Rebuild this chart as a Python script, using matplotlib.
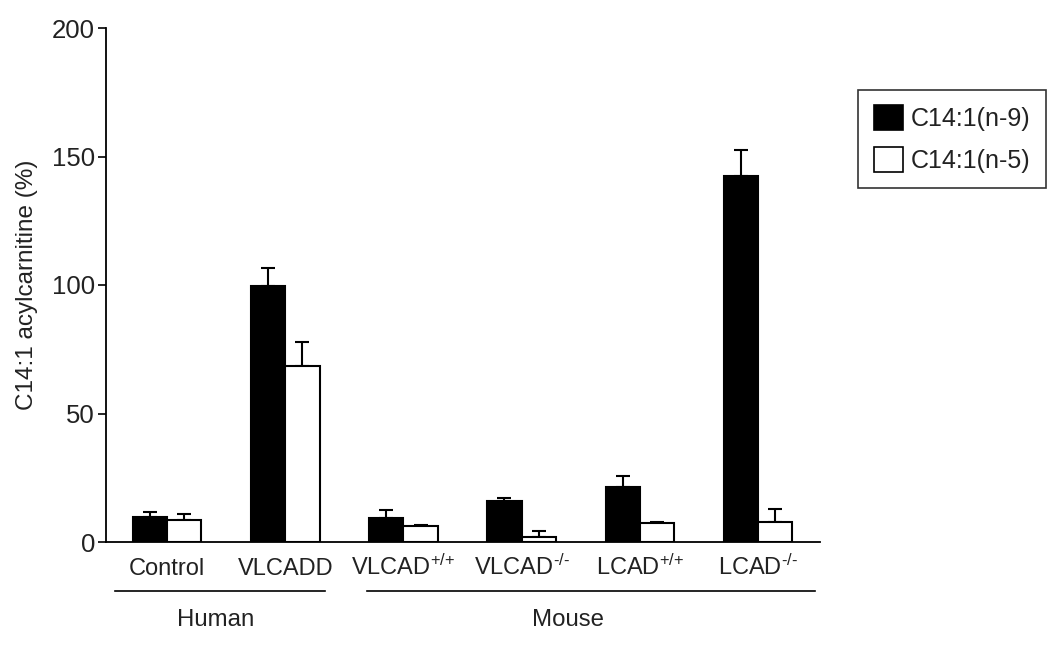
import matplotlib
matplotlib.use("Agg")
import matplotlib.pyplot as plt
from matplotlib.patches import Patch
import numpy as np

plt.rcParams['font.family'] = ['Liberation Sans', 'DejaVu Sans']
plt.rcParams['mathtext.fontset'] = 'custom'
plt.rcParams['mathtext.rm'] = 'Liberation Sans'
plt.rcParams['mathtext.default'] = 'regular'

categories = ['Control', 'VLCADD', r'VLCAD$^{\text{+/+}}$', r'VLCAD$^{\text{-/-}}$',
              r'LCAD$^{\text{+/+}}$', r'LCAD$^{\text{-/-}}$']
n9_values = [9.9, 99.5, 9.2, 16.1, 21.5, 142.5]
n9_err = [1.8, 7.0, 3.1, 0.9, 4.1, 10.0]
n5_values = [8.6, 68.6, 6.2, 1.9, 7.4, 7.9]
n5_err = [2.4, 9.2, 0.4, 2.4, 0.5, 4.9]
series_labels = ['C14:1(n-9)', 'C14:1(n-5)']
groups = ['Human', 'Mouse']
yticks = [0, 50, 100, 150, 200]

fig = plt.figure(figsize=(10.5, 6.45), dpi=100)
ax = fig.add_axes([106/1050, 1-542/645, (820-106)/1050, (542-28)/645])

x = np.arange(len(categories))
w = 0.29
ax.bar(x - w/2, n9_values, width=w, color='black', edgecolor='black', linewidth=1.5, zorder=2)
ax.bar(x + w/2, n5_values, width=w, color='white', edgecolor='black', linewidth=1.5, zorder=2)
ax.errorbar(x - w/2, n9_values, yerr=[np.zeros(len(x)), n9_err], fmt='none', ecolor='black',
            elinewidth=1.5, capsize=5, capthick=1.5, zorder=1)
ax.errorbar(x + w/2, n5_values, yerr=[np.zeros(len(x)), n5_err], fmt='none', ecolor='black',
            elinewidth=1.5, capsize=5, capthick=1.5, zorder=1)

ax.set_xlim(-0.517, 5.525)
ax.set_ylim(0, 200)
ax.set_yticks(yticks)
ax.set_yticklabels([str(t) for t in yticks], fontsize=18.5, color='#222222')
ax.set_xticks(x)
ax.set_xticklabels(categories, fontsize=17, color='#222222')
ax.tick_params(axis='x', length=0, pad=24)
for lab in ax.get_xticklabels():
    lab.set_verticalalignment('baseline')
ax.tick_params(axis='y', length=6, width=1.2, pad=2, direction='out')
for s in ['top', 'right']:
    ax.spines[s].set_visible(False)
for s in ['left', 'bottom']:
    ax.spines[s].set_linewidth(1.3)
ax.set_ylabel('C14:1 acylcarnitine (%)', fontsize=17.5, color='#222222')
ax.yaxis.set_label_coords((38 - 106) / 714, 0.5)

trans = ax.get_xaxis_transform()
ax.plot([-0.44, 1.34], [-0.095, -0.095], color='black', lw=1.2, transform=trans, clip_on=False)
ax.plot([1.69, 5.48], [-0.095, -0.095], color='black', lw=1.2, transform=trans, clip_on=False)
ax.text(0.41, -0.152, groups[0], transform=trans, ha='center', va='center', fontsize=17.3, color='#222222')
ax.text(3.39, -0.152, groups[1], transform=trans, ha='center', va='center', fontsize=17.3, color='#222222')

handles = [Patch(facecolor='black', edgecolor='black', lw=1.2),
           Patch(facecolor='white', edgecolor='black', lw=1.2)]
leg = fig.legend(handles, series_labels, loc='upper left', bbox_to_anchor=(858/1050, 1-90/645),
                 fontsize=18, frameon=True, fancybox=False, edgecolor='black', borderaxespad=0,
                 handlelength=1.16, handleheight=1.16, handletextpad=0.32, borderpad=0.62,
                 labelspacing=0.62)
leg.get_frame().set_linewidth(1.2)
for t in leg.get_texts():
    t.set_color('#222222')

fig.savefig('out.png', dpi=100)
